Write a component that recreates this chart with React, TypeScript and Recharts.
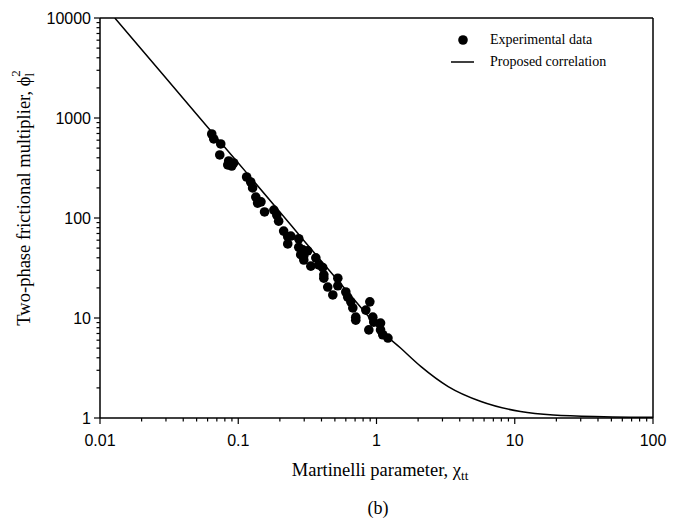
import { ComposedChart, Scatter, Line, XAxis, YAxis, ReferenceLine } from 'recharts'

// Martinelli parameter (x) and two-phase multiplier (y)
const expX = [
  0.0643, 0.0665, 0.0747, 0.0735, 0.0853, 0.0897, 0.084, 0.0927, 0.115, 0.123,
  0.127, 0.134, 0.146, 0.138, 0.155, 0.181, 0.19, 0.196, 0.213, 0.228,
  0.228, 0.24, 0.274, 0.274, 0.293, 0.298, 0.283, 0.318, 0.298, 0.364,
  0.335, 0.382, 0.408, 0.416, 0.416, 0.525, 0.525, 0.444, 0.483, 0.6,
  0.619, 0.652, 0.674, 0.708, 0.708, 0.895, 0.837, 0.94, 0.955, 1.07,
  0.88, 1.07, 1.11, 1.21,
]
const expY = [
  692, 617, 550, 427, 372, 331, 339, 355, 257, 229,
  200, 162, 145, 141, 115, 120, 107, 93, 74, 65,
  55, 66, 62, 51, 48, 42, 43, 47, 38, 40,
  33, 34, 32, 27, 25, 25, 21, 20.4, 17, 18.2,
  16.2, 14.5, 12.6, 10.2, 9.5, 14.5, 12, 10.2, 9.1, 8.9,
  7.6, 7.6, 6.8, 6.3,
]

const corrX = [0.0128, 0.02, 0.05, 0.1, 0.2, 0.3, 0.5, 0.9, 1, 1.5, 2.1, 3.3, 5.7, 11, 19, 44, 100]
const corrY = [10000, 4840, 1090, 355, 115, 59, 25.7, 9.9, 8.3, 4.98, 3.26, 2.06, 1.46, 1.16, 1.07, 1.03, 1.015]

const xTicks = [
  0.01, 0.02, 0.03, 0.04, 0.05, 0.06, 0.07, 0.08, 0.09,
  0.1, 0.2, 0.3, 0.4, 0.5, 0.6, 0.7, 0.8, 0.9,
  1, 2, 3, 4, 5, 6, 7, 8, 9,
  10, 20, 30, 40, 50, 60, 70, 80, 90, 100,
]
const yTicks = [
  1, 2, 3, 4, 5, 6, 7, 8, 9,
  10, 20, 30, 40, 50, 60, 70, 80, 90,
  100, 200, 300, 400, 500, 600, 700, 800, 900,
  1000, 2000, 3000, 4000, 5000, 6000, 7000, 8000, 9000, 10000,
]

const expData = expX.map((x, i) => ({ x, y: expY[i] }))
const corrData = corrX.map((x, i) => ({ x, y: corrY[i] }))

const SANS = '"Liberation Sans", Arial, Helvetica, sans-serif'
const SERIF = '"Liberation Serif", "Times New Roman", serif'

const isMajor = (v: number) => Math.abs(Math.log10(v) - Math.round(Math.log10(v))) < 1e-6

function XTick({ x, y, payload }: any) {
  const major = isMajor(payload.value)
  return (
    <g>
      <line x1={x} x2={x} y1={y} y2={y + (major ? 6 : 3.5)} stroke="#000" strokeWidth={1.2} />
      {major && (
        <text x={x} y={y + 28} textAnchor="middle" fontFamily={SANS} fontSize={16} fill="#000">
          {String(payload.value)}
        </text>
      )}
    </g>
  )
}

function YTick({ x, y, payload }: any) {
  const major = isMajor(payload.value)
  return (
    <g>
      <line x1={x} x2={x - (major ? 6 : 3.5)} y1={y} y2={y} stroke="#000" strokeWidth={1.2} />
      {major && (
        <text x={x - 9} y={y + 6} textAnchor="end" fontFamily={SANS} fontSize={16} fill="#000">
          {String(payload.value)}
        </text>
      )}
    </g>
  )
}

const Dot = (p: any) => <circle cx={p.cx} cy={p.cy} r={4.8} fill="#000" />

export default function App() {
  return (
    <div style={{ position: 'absolute', left: 0, top: 0, width: 680, height: 519, background: '#fff' }}>
      <ComposedChart width={680} height={519} margin={{ top: 18, right: 27, left: 0, bottom: 0 }}>
        <XAxis
          dataKey="x"
          type="number"
          scale="log"
          domain={[0.01, 100]}
          ticks={xTicks}
          interval={0}
          allowDataOverflow
          height={101}
          tickSize={0}
          tickMargin={0}
          tickLine={false}
          tick={<XTick />}
          axisLine={{ stroke: '#000', strokeWidth: 1.5 }}
          label={{
            content: () => (
              <g fontFamily={SERIF} fill="#000">
                <text x={380} y={476} textAnchor="middle" fontSize={18.5}>
                  Martinelli parameter, χ<tspan dy={4} fontSize={13}>tt</tspan>
                </text>
                <text x={378} y={514} textAnchor="middle" fontSize={18}>(b)</text>
              </g>
            ),
          }}
        />
        <YAxis
          dataKey="y"
          type="number"
          scale="log"
          domain={[1, 10000]}
          ticks={yTicks}
          interval={0}
          allowDataOverflow
          width={100}
          tickSize={0}
          tickMargin={0}
          tickLine={false}
          tick={<YTick />}
          axisLine={{ stroke: '#000', strokeWidth: 1.5 }}
          label={{
            content: () => (
              <text
                transform="translate(30, 198) rotate(-90)"
                textAnchor="middle"
                fontFamily={SERIF}
                fontSize={18.5}
                fill="#000"
              >
                Two-phase frictional multiplier, ϕ
                <tspan dy={4} fontSize={13}>l</tspan>
                <tspan dx={-4} dy={-14} fontSize={13}>2</tspan>
              </text>
            ),
          }}
        />
        <ReferenceLine y={10000} stroke="#000" strokeWidth={1.5} />
        <ReferenceLine x={100} stroke="#000" strokeWidth={1.5} />
        <Line
          data={corrData}
          dataKey="y"
          type="monotone"
          stroke="#000"
          strokeWidth={1.5}
          dot={false}
          activeDot={false}
          isAnimationActive={false}
        />
        <Scatter data={expData} dataKey="y" fill="#000" shape={Dot} isAnimationActive={false} />
      </ComposedChart>
      <div style={{ position: 'absolute', left: 450, top: 29, fontFamily: SERIF, fontSize: 14, color: '#000', lineHeight: '22px' }}>
        <div style={{ display: 'flex', alignItems: 'center' }}>
          <svg width={26} height={22}><circle cx={13} cy={11} r={4.8} fill="#000" /></svg>
          <span style={{ marginLeft: 14 }}>Experimental data</span>
        </div>
        <div style={{ display: 'flex', alignItems: 'center' }}>
          <svg width={26} height={22}><line x1={1} x2={24} y1={11} y2={11} stroke="#000" strokeWidth={1.5} /></svg>
          <span style={{ marginLeft: 14 }}>Proposed correlation</span>
        </div>
      </div>
    </div>
  )
}
